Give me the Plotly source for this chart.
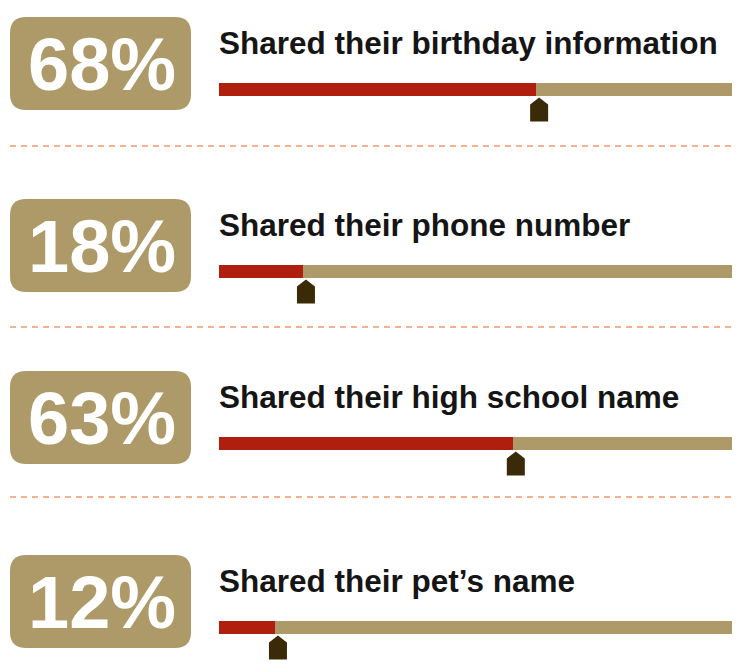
import plotly.graph_objects as go

# ---- data ----
labels = [
    "Shared their birthday information",
    "Shared their phone number",
    "Shared their high school name",
    "Shared their pet\u2019s name",
]
values = [68, 18, 63, 12]
pct_text = [f"{v}%" for v in values]

# ---- layout constants (pixels) ----
W, H = 742, 672
row_top = [17, 199, 371, 555]
divider_y = [146, 327, 497]
TRACK_X0, TRACK_X1 = 219, 732
SCALE_MAX = 110  # value at the right end of the track

TAN = "#AD9A68"
RED = "#B01E0E"
DARK = "#3B2A08"
DASH = "#F6B190"
FONT = "Liberation Sans, Arial, Helvetica, sans-serif"

bar_y = [t + 72 for t in row_top]
label_y = [t + 26 for t in row_top]

fig = go.Figure()

# track (full) bars
fig.add_trace(go.Bar(
    x=[SCALE_MAX] * len(values), y=bar_y, orientation="h", width=13,
    marker=dict(color=TAN, line=dict(width=0)), xaxis="x2", yaxis="y",
    hoverinfo="skip", showlegend=False,
))
# value bars
fig.add_trace(go.Bar(
    x=values, y=bar_y, orientation="h", width=13,
    marker=dict(color=RED, line=dict(width=0)), xaxis="x2", yaxis="y",
    showlegend=False, hovertemplate="%{x}%<extra></extra>",
))

shapes = []
annotations = []


def rounded_rect(x0, y0, x1, y1, r):
    return (f"M {x0+r},{y0} L {x1-r},{y0} Q {x1},{y0} {x1},{y0+r} "
            f"L {x1},{y1-r} Q {x1},{y1} {x1-r},{y1} L {x0+r},{y1} "
            f"Q {x0},{y1} {x0},{y1-r} L {x0},{y0+r} Q {x0},{y0} {x0+r},{y0} Z")


for i, v in enumerate(values):
    t = row_top[i]
    # badge
    shapes.append(dict(type="path", xref="x", yref="y",
                       path=rounded_rect(10, t, 191, t + 93, 16),
                       fillcolor=TAN, line=dict(width=0), layer="below"))
    annotations.append(dict(x=102, y=t + 47, xref="x", yref="y",
                            text=f"<b>{pct_text[i]}</b>", showarrow=False,
                            xanchor="center", yanchor="middle",
                            font=dict(family=FONT, size=74, color="white")))
    # label
    annotations.append(dict(x=TRACK_X0 - 2, y=label_y[i], xref="x", yref="y",
                            text=f"<b>{labels[i]}</b>", showarrow=False,
                            xanchor="left", yanchor="middle",
                            font=dict(family=FONT, size=31.5, color="#151515")))
    # pointer (house shape) anchored at the value
    shapes.append(dict(type="path", xref="x2", yref="y",
                       xsizemode="pixel", ysizemode="pixel",
                       xanchor=v, yanchor=bar_y[i] + 6.5,
                       path="M 3,-2 L 12,-9 L 12,-26 L -6,-26 L -6,-9 Z",
                       fillcolor=DARK, line=dict(width=0)))

for y in divider_y:
    shapes.append(dict(type="line", xref="x", yref="y", x0=10, x1=732, y0=y, y1=y,
                       line=dict(color=DASH, width=2, dash="6px,5px")))

fig.update_layout(
    width=W, height=H,
    margin=dict(l=0, r=0, t=0, b=0),
    paper_bgcolor="white", plot_bgcolor="white",
    barmode="overlay", bargap=0,
    xaxis=dict(range=[0, W], domain=[0, 1], visible=False, fixedrange=True),
    xaxis2=dict(range=[0, SCALE_MAX], domain=[TRACK_X0 / W, TRACK_X1 / W],
                anchor="y", visible=False, fixedrange=True),
    yaxis=dict(range=[H, 0], domain=[0, 1], visible=False, fixedrange=True),
    shapes=shapes, annotations=annotations,
    showlegend=False,
)

fig.write_html("out.html", config={"displayModeBar": False},
               post_script="document.body.style.margin='0';document.body.style.overflow='hidden';")
